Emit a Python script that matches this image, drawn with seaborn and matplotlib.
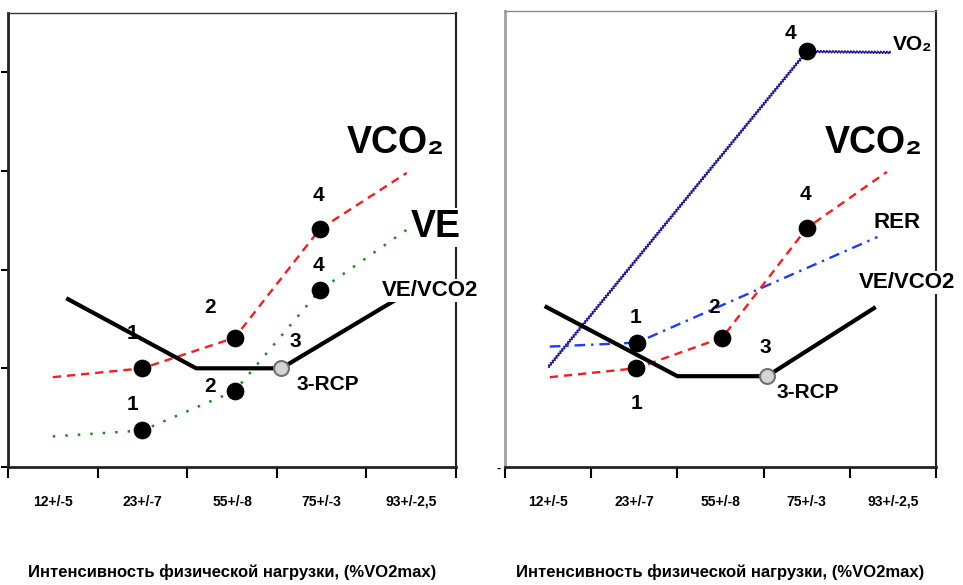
import matplotlib
matplotlib.use("Agg")
import matplotlib.pyplot as plt
import seaborn as sns
import numpy as np

sns.set_theme(style="white")
plt.rcParams['font.family'] = ['Liberation Sans', 'DejaVu Sans']
plt.rcParams['text.color'] = 'black'
plt.rcParams['axes.labelcolor'] = 'black'
plt.rcParams['xtick.color'] = 'black'
plt.rcParams['ytick.color'] = 'black'

# ---------------- data ----------------
categories = ["12+/-5", "23+/-7", "55+/-8", "75+/-3", "93+/-2,5"]
cat_pos = [0.5, 1.5, 2.5, 3.5, 4.5]
xlabel_text = "Интенсивность физической нагрузки, (%VO2max)"

# left panel
L_vevco2_x = [0.65, 2.10, 3.05, 4.32]
L_vevco2_y = [1.71, 1.00, 1.00, 1.69]
L_vco2_x = [0.50, 1.50, 2.53, 3.48, 4.45]
L_vco2_y = [0.91, 1.00, 1.31, 2.41, 2.98]
L_ve_x = [0.50, 1.50, 2.53, 3.48, 4.46]
L_ve_y = [0.31, 0.37, 0.77, 1.79, 2.41]
L_pts_x = [1.50, 1.50, 2.53, 2.53, 3.48, 3.48]
L_pts_y = [1.00, 0.37, 1.31, 0.77, 2.41, 1.79]
L_pts_lab = ["1", "1", "2", "2", "4", "4"]
L_pts_off = [(-7, 25), (-7, 19), (-18, 22), (-18, 3), (-1, 24), (-1, 18)]
L_rcp = (3.05, 1.00)

# right panel
R_vo2_x = [0.50, 3.50, 4.49]
R_vo2_y = [1.01, 4.21, 4.20]
R_vco2_x = [0.52, 1.52, 2.52, 3.50, 4.43]
R_vco2_y = [0.91, 1.00, 1.31, 2.42, 2.99]
R_rer_x = [0.52, 1.53, 4.32]
R_rer_y = [1.22, 1.26, 2.33]
R_vevco2_x = [0.46, 2.00, 3.04, 4.30]
R_vevco2_y = [1.63, 0.92, 0.92, 1.62]
R_pts_x = [3.50, 3.50, 2.52, 1.53, 1.52]
R_pts_y = [4.21, 2.42, 1.31, 1.26, 1.00]
R_pts_lab = ["4", "4", "2", "1", "1"]
R_pts_off = [(-12, 13), (-1, 24), (-6, 22), (-1, 18), (0, -25)]
R_rcp = (3.04, 0.92)

# ---------------- figure ----------------
fig = plt.figure(figsize=(9.63, 5.85), dpi=100)
ax1 = fig.add_axes([8/963, 118/585, 448/963, 454/585])
ax2 = fig.add_axes([505/963, 118/585, 431/963, 456/585])

RED = "#ff1a1a"
GREEN = "#1a8c1a"
BLUE = "#1a3cff"
NAVY = "#1a1a9c"


def line(ax, x, y, color, lw, dashes=None, z=3):
    sns.lineplot(x=x, y=y, ax=ax, color=color, linewidth=lw, sort=False,
                 estimator=None, zorder=z)
    ln = ax.lines[-1]
    if dashes is not None:
        ln.set_dashes(dashes)
    ln.set_solid_capstyle('butt')
    return ln


def points(ax, x, y):
    sns.scatterplot(x=x, y=y, ax=ax, s=150, color="black", edgecolor="black",
                    linewidth=0.5, zorder=6)


def rcp(ax, p):
    sns.scatterplot(x=[p[0]], y=[p[1]], ax=ax, s=115, color="#d4d4d4",
                    edgecolor="#707070", linewidth=1.5, zorder=6)


num_kw = dict(fontsize=15, fontweight="bold", ha="center", va="center",
              textcoords="offset points", zorder=3, color="black")

# ---- left panel ----
line(ax1, L_vco2_x, L_vco2_y, RED, 1.7, (3.5, 2.5))
line(ax1, L_ve_x, L_ve_y, GREEN, 1.8, (1, 4))
line(ax1, L_vevco2_x, L_vevco2_y, "black", 3.0, z=4)
points(ax1, L_pts_x, L_pts_y)
rcp(ax1, L_rcp)
for x, y, t, o in zip(L_pts_x, L_pts_y, L_pts_lab, L_pts_off):
    ax1.annotate(t, (x, y), xytext=o, **num_kw)
ax1.annotate("3", L_rcp, xytext=(10, 19), **num_kw)
ax1.annotate("3-RCP", L_rcp, xytext=(11, -12), fontsize=15, fontweight="bold",
             ha="left", va="center", textcoords="offset points", color="black")
ax1.text(3.78, 3.28, "VCO₂", fontsize=27, fontweight="bold", ha="left",
         va="center", color="black")
ax1.text(4.49, 2.43, "VE", fontsize=27, fontweight="bold", ha="left",
         va="center", zorder=7, color="black",
         bbox=dict(facecolor="white", edgecolor="none", pad=1))
ax1.text(4.17, 1.79, "VE/VCO2", fontsize=16, fontweight="bold", ha="left",
         va="center", zorder=7, clip_on=False, color="black",
         bbox=dict(facecolor="white", edgecolor="none", pad=1))

# ---- right panel ----
vo2 = line(ax2, R_vo2_x, R_vo2_y, NAVY, 1.1)
vo2.set_sketch_params(scale=1.2, length=3, randomness=1)
line(ax2, R_rer_x, R_rer_y, BLUE, 1.7, (4.5, 2.5, 1, 2.5))
line(ax2, R_vco2_x, R_vco2_y, RED, 1.7, (3.5, 2.5))
line(ax2, R_vevco2_x, R_vevco2_y, "black", 3.0, z=4)
points(ax2, R_pts_x, R_pts_y)
rcp(ax2, R_rcp)
for x, y, t, o in zip(R_pts_x, R_pts_y, R_pts_lab, R_pts_off):
    ax2.annotate(t, (x, y), xytext=o, **num_kw)
ax2.annotate("3", R_rcp, xytext=(-1, 21), **num_kw)
ax2.annotate("3-RCP", R_rcp, xytext=(6.5, -12), fontsize=15, fontweight="bold",
             ha="left", va="center", textcoords="offset points", color="black")
ax2.text(3.71, 3.28, "VCO₂", fontsize=27, fontweight="bold", ha="left",
         va="center", color="black")
ax2.text(4.50, 4.28, "VO₂", fontsize=15, fontweight="bold", ha="left",
         va="center", zorder=7, color="black",
         bbox=dict(facecolor="white", edgecolor="none", pad=1))
ax2.text(4.27, 2.48, "RER", fontsize=16, fontweight="bold", ha="left",
         va="center", zorder=7, color="black")
ax2.text(4.10, 1.87, "VE/VCO2", fontsize=16, fontweight="bold", ha="left",
         va="center", zorder=7, clip_on=False, color="black",
         bbox=dict(facecolor="white", edgecolor="none", pad=1))

# ---- axes styling ----
for ax in (ax1, ax2):
    ax.set_xlim(0, 5)
    ax.set_xticks(range(6))
    ax.set_xticklabels([])
    ax.set_xticks(cat_pos, minor=True)
    ax.set_xticklabels(categories, minor=True, fontsize=10, fontweight="bold",
                       color="black")
    ax.tick_params(axis="x", which="major", direction="out", length=8,
                   width=1.5, color="black", bottom=True)
    ax.tick_params(axis="x", which="minor", length=0, pad=20, bottom=True)
    ax.set_xlabel(xlabel_text, fontsize=12, fontweight="bold", labelpad=40,
                  color="black")
    ax.set_ylabel("")
    ax.grid(False)
    ax.spines["bottom"].set_linewidth(2)
    ax.spines["bottom"].set_color("#222222")
    ax.spines["right"].set_linewidth(1.5)
    ax.spines["right"].set_color("#222222")

ax1.set_ylim(0, 4.6)
ax2.set_ylim(0, 4.62)

ax1.set_yticks([0, 1, 2, 3, 4])
ax1.set_yticklabels([])
ax1.tick_params(axis="y", direction="out", length=5, width=1.5, color="black",
                left=True)
ax1.spines["left"].set_linewidth(2)
ax1.spines["left"].set_color("#222222")
ax1.spines["top"].set_linewidth(1)
ax1.spines["top"].set_color("#333333")

ax2.set_yticks([0])
ax2.set_yticklabels(["-"], fontsize=9, fontweight="bold", color="black")
ax2.tick_params(axis="y", length=0, pad=3, left=True)
ax2.spines["left"].set_linewidth(2)
ax2.spines["left"].set_color("#a0a0a0")
ax2.spines["top"].set_linewidth(1)
ax2.spines["top"].set_color("#888888")

fig.savefig("out.png", dpi=100, facecolor="white")
